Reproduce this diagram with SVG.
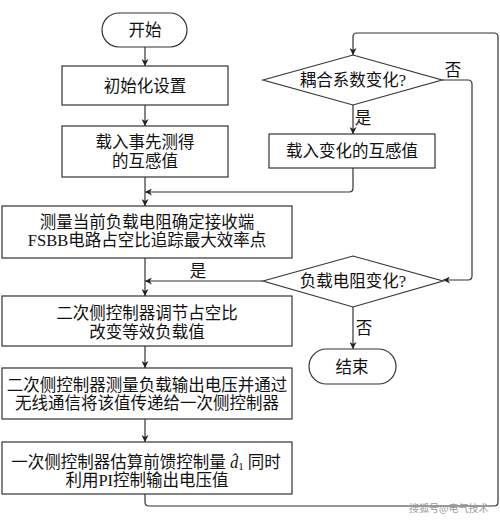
<svg xmlns="http://www.w3.org/2000/svg" width="500" height="522" viewBox="0 0 500 522">
<defs>
<marker id="ah" viewBox="0 0 10 10" refX="10" refY="5" markerWidth="7" markerHeight="7" orient="auto" markerUnits="userSpaceOnUse">
<path d="M0,0 L10,5 L0,10 L3,5 Z" fill="#222"/>
</marker>
<style>
.n{fill:#fff;stroke:#333;stroke-width:1.2}
.t{font-family:"Liberation Serif","Noto Sans CJK SC",serif;font-size:16.5px;fill:#111;text-anchor:middle;dominant-baseline:central}
.c{fill:none;stroke:#333;stroke-width:1.2;marker-end:url(#ah)}
.l{fill:none;stroke:#333;stroke-width:1.2}
.w{font-family:"Noto Sans CJK SC",sans-serif;font-size:10px;fill:#999}
</style>
</defs>
<rect width="500" height="522" fill="#fff"/>
<g id="connectors">
<path class="c" d="M145,47 V66"/>
<path class="c" d="M145,105 V126"/>
<path class="c" d="M145,177 V206"/>
<path class="c" d="M353,168 V188 Q353,192 349,192 H145"/>
<path class="c" d="M145,258 V296"/>
<path class="c" d="M263,281 H145"/>
<path class="c" d="M145,346 V368"/>
<path class="c" d="M145,419 V442"/>
<path class="c" d="M145,494 V502 Q145,506 149,506 H494 Q498,506 498,502 V37 Q498,33 494,33 H357 Q353,33 353,37 V55"/>
<path class="c" d="M353,105 V134"/>
<path class="c" d="M442,80 H468 Q472,80 472,84 V276 Q472,280 468,280 H443"/>
<path class="c" d="M353,307 V349"/>
<text class="t" x="198" y="271">是</text>
<text class="t" x="363" y="118">是</text>
<text class="t" x="453" y="70">否</text>
<text class="t" x="364" y="328">否</text>
</g>
<g id="start">
<rect class="n" x="102" y="13" width="85" height="34" rx="17"/>
<text class="t" x="145" y="30">开始</text>
</g>
<g id="init">
<rect class="n" x="62" y="66" width="166" height="39"/>
<text class="t" x="145" y="86">初始化设置</text>
</g>
<g id="load-mutual">
<rect class="n" x="62" y="126" width="166" height="51"/>
<text class="t" x="145" y="142">载入事先测得</text>
<text class="t" x="145" y="161">的互感值</text>
</g>
<g id="measure">
<rect class="n" x="2" y="206" width="290" height="52"/>
<text class="t" x="147" y="222">测量当前负载电阻确定接收端</text>
<text class="t" x="147" y="240">FSBB电路占空比追踪最大效率点</text>
</g>
<g id="adjust">
<rect class="n" x="2" y="296" width="290" height="50"/>
<text class="t" x="147" y="313">二次侧控制器调节占空比</text>
<text class="t" x="147" y="332">改变等效负载值</text>
</g>
<g id="comm">
<rect class="n" x="2" y="368" width="290" height="51"/>
<text class="t" x="147" y="385">二次侧控制器测量负载输出电压并通过</text>
<text class="t" x="147" y="403">无线通信将该值传递给一次侧控制器</text>
</g>
<g id="estimate">
<rect class="n" x="2" y="442" width="290" height="52"/>
<text class="t" x="146" y="462">一次侧控制器估算前馈控制量 <tspan font-style="italic">d̂</tspan><tspan font-size="11" dy="4">1</tspan><tspan dy="-4"> 同时</tspan></text>
<text class="t" x="147" y="480">利用PI控制输出电压值</text>
</g>
<g id="coupling">
<polygon class="n" points="263,80 353,55 442,80 353,105"/>
<text class="t" x="353" y="80">耦合系数变化?</text>
</g>
<g id="load-changed">
<rect class="n" x="269" y="134" width="166" height="34"/>
<text class="t" x="352" y="151">载入变化的互感值</text>
</g>
<g id="load-decision">
<polygon class="n" points="263,281 353,256 443,281 353,307"/>
<text class="t" x="353" y="281">负载电阻变化?</text>
</g>
<g id="end">
<rect class="n" x="309" y="349" width="87" height="35" rx="17.5"/>
<text class="t" x="352" y="367">结束</text>
</g>
<text class="w" x="409" y="512">搜狐号@电气技术</text>
</svg>
